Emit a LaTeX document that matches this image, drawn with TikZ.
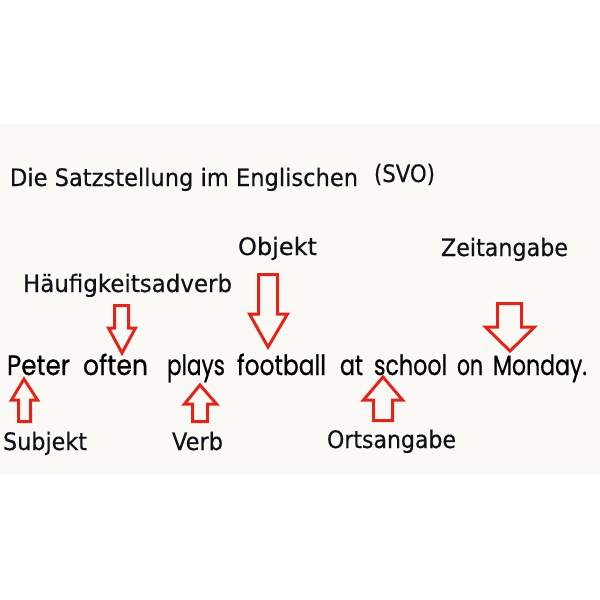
\documentclass[tikz,border=0pt]{standalone}
\usepackage{fontspec}
\usepackage{graphicx}
\setmainfont{DejaVu Sans}
\newfontfamily\lblf{DejaVu Sans}[FakeBold=0.35]
\newfontfamily\comicf{Poppins}[FakeBold=0.7]
\definecolor{panelbg}{HTML}{FAF9F6}
\definecolor{arrowred}{HTML}{E0261A}
\definecolor{inkc}{HTML}{101018}
\newcommand\fitw[2]{\resizebox{#1pt}{\height}{#2}}
% generic block arrow: shaft xl,xr ; shaft end ys ; head base yh ; head hl,hr ; tip xt,ytip
\newcommand\blockarr[9]{\draw[blk] (#1,#3) -- (#2,#3) -- (#2,#4) -- (#6,#4) -- (#7,#8) -- (#5,#4) -- (#1,#4) -- cycle; \coordinate (#9) at (#7,#8);}
\begin{document}
\begin{tikzpicture}[x=1pt,y=-1pt,
  lbl/.style={anchor=base west, inner sep=0pt, outer sep=0pt, text=inkc, font=\lblf\fontsize{24}{24}\selectfont},
  ttl/.style={anchor=base west, inner sep=0pt, outer sep=0pt, text=inkc, font=\lblf\fontsize{24}{24}\selectfont},
  word/.style={anchor=base west, inner sep=0pt, outer sep=0pt, text=black, font=\comicf\fontsize{28}{28}\selectfont},
  blk/.style={draw=arrowred, line width=3pt, fill=panelbg, line join=miter}]
\useasboundingbox (0,0) rectangle (600,600);
\fill[white] (0,0) rectangle (600,600);
\fill[panelbg] (0,124) rectangle (600,475);
% title
\node[ttl] (title) at (10,186) {\fitw{348}{Die Satzstellung im Englischen}};
\node[ttl] (svo) at (374,182) {\fitw{61}{(SVO)}};
% labels
\node[lbl] (objekt) at (238,255) {\fitw{79}{Objekt}};
\node[lbl] (zeit) at (441,256) {\fitw{127}{Zeitangabe}};
\node[lbl] (haeuf) at (23,292) {\fitw{209}{Häufigkeitsadverb}};
\node[lbl] (subj) at (3,450) {\fitw{84}{Subjekt}};
\node[lbl] (verb) at (172,450) {\fitw{51}{Verb}};
\node[lbl] (orts) at (327,448) {\fitw{129}{Ortsangabe}};
% sentence
\node[word] (w1) at (7,375) {\fitw{63}{Peter}};
\node[word] (w2) at (83,375) {\fitw{65}{often}};
\node[word] (w3) at (167,375) {\fitw{58}{plays}};
\node[word] (w4) at (237,375) {\fitw{89}{football}};
\node[word] (w5) at (340,375) {\fitw{23}{at}};
\node[word] (w6) at (374,375) {\fitw{73}{school}};
\node[word] (w7) at (457,375) {\fitw{26}{on}};
\node[word] (w8) at (493,375) {\fitw{94}{Monday.}};
% arrows (down)
\blockarr{114.5}{128.5}{305.5}{328}{108.5}{135.5}{122}{353}{aH}
\blockarr{258.5}{277.5}{274.5}{314}{249.5}{287.5}{268}{347}{aO}
\blockarr{497.5}{521.5}{303.5}{327}{485.5}{534.5}{510}{351}{aZ}
% arrows (up)
\blockarr{18.5}{30.5}{421.5}{400}{11.5}{37.5}{24}{379}{aS}
\blockarr{192.5}{207.5}{421.5}{404}{184.5}{216.5}{200}{385}{aV}
\blockarr{373.5}{392.5}{420.5}{400}{363.5}{402.5}{383}{377}{aOr}
\end{tikzpicture}
\end{document}
